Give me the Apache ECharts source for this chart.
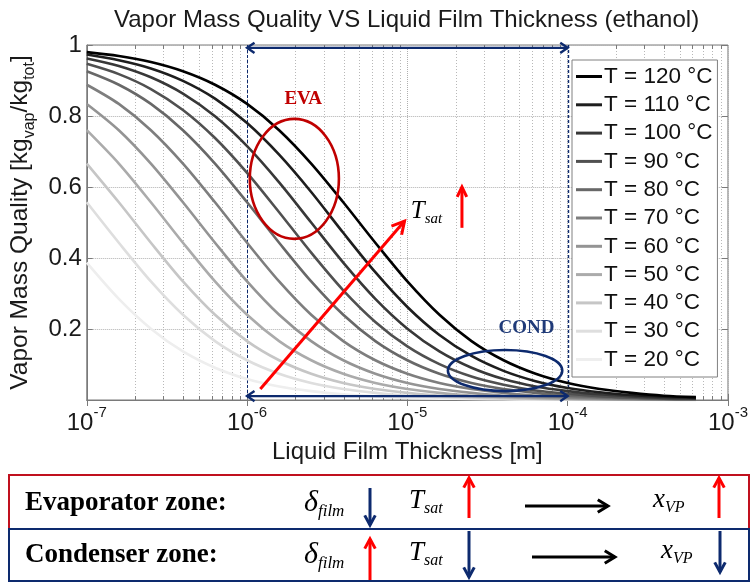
<!DOCTYPE html>
<html><head><meta charset="utf-8">
<script src="https://cdn.jsdelivr.net/npm/echarts@6/dist/echarts.min.js"></script>
<style>html,body{margin:0;padding:0;background:#fff}#c{width:751px;height:582px}</style>
</head><body><div id="c"></div>
<script>
// ---- data ----
const thickness = [1e-7, 1.585e-7, 2.512e-7, 3.981e-7, 6.31e-7, 1e-6, 1.585e-6, 2.512e-6, 3.981e-6, 6.31e-6,
  1e-5, 1.585e-5, 2.512e-5, 3.981e-5, 6.31e-5, 1e-4, 1.585e-4, 2.512e-4, 3.981e-4, 6.31e-4];
const temps = [120, 110, 100, 90, 80, 70, 60, 50, 40, 30, 20];
const q120 = [0.980, 0.969, 0.952, 0.926, 0.888, 0.834, 0.760, 0.666, 0.557, 0.443, 0.334, 0.240, 0.166, 0.112, 0.074, 0.048, 0.031, 0.020, 0.012, 0.008];
const q110 = [0.973, 0.957, 0.934, 0.899, 0.849, 0.780, 0.691, 0.586, 0.471, 0.360, 0.262, 0.183, 0.124, 0.082, 0.053, 0.034, 0.022, 0.014, 0.009, 0.006];
const q100 = [0.962, 0.941, 0.909, 0.863, 0.799, 0.715, 0.613, 0.500, 0.387, 0.285, 0.201, 0.137, 0.091, 0.059, 0.038, 0.025, 0.016, 0.010, 0.006, 0.004];
const q90  = [0.947, 0.918, 0.876, 0.817, 0.738, 0.640, 0.529, 0.415, 0.309, 0.220, 0.151, 0.101, 0.066, 0.043, 0.027, 0.018, 0.011, 0.007, 0.004, 0.003];
const q80  = [0.926, 0.888, 0.834, 0.760, 0.666, 0.557, 0.443, 0.334, 0.240, 0.166, 0.112, 0.074, 0.048, 0.031, 0.020, 0.012, 0.008, 0.005, 0.003, 0.002];
const q70  = [0.888, 0.834, 0.760, 0.666, 0.557, 0.443, 0.334, 0.240, 0.166, 0.112, 0.074, 0.048, 0.031, 0.020, 0.012, 0.008, 0.005, 0.003, 0.002, 0.001];
const q60  = [0.834, 0.760, 0.666, 0.557, 0.443, 0.334, 0.240, 0.166, 0.112, 0.074, 0.048, 0.031, 0.020, 0.012, 0.008, 0.005, 0.003, 0.002, 0.001, 0.001];
const q50  = [0.760, 0.666, 0.557, 0.443, 0.334, 0.240, 0.166, 0.112, 0.074, 0.048, 0.031, 0.020, 0.012, 0.008, 0.005, 0.003, 0.002, 0.001, 0.001, 0.001];
const q40  = [0.666, 0.557, 0.443, 0.334, 0.240, 0.166, 0.112, 0.074, 0.048, 0.031, 0.020, 0.012, 0.008, 0.005, 0.003, 0.002, 0.001, 0.001, 0.001, 0.000];
const q30  = [0.557, 0.443, 0.334, 0.240, 0.166, 0.112, 0.074, 0.048, 0.031, 0.020, 0.012, 0.008, 0.005, 0.003, 0.002, 0.001, 0.001, 0.001, 0.000, 0.000];
const q20  = [0.387, 0.285, 0.201, 0.137, 0.091, 0.059, 0.038, 0.025, 0.016, 0.010, 0.006, 0.004, 0.003, 0.002, 0.001, 0.001, 0.000, 0.000, 0.000, 0.000];
const qualities = [q120, q110, q100, q90, q80, q70, q60, q50, q40, q30, q20];
const minorX = [2e-7,3e-7,4e-7,5e-7,6e-7,7e-7,8e-7,9e-7, 2e-6,3e-6,4e-6,5e-6,6e-6,7e-6,8e-6,9e-6,
  2e-5,3e-5,4e-5,5e-5,6e-5,7e-5,8e-5,9e-5, 2e-4,3e-4,4e-4,5e-4,6e-4,7e-4,8e-4,9e-4];
const zoneBounds = [1e-6, 1e-4];
// annotation anchors in data space
const evaBox = [[1.04e-6, 0.792], [3.74e-6, 0.454]];
const condBox = [[1.79e-5, 0.141], [9.25e-5, 0.025]];
const tsatArrow = [[1.21e-6, 0.031], [9.6e-6, 0.504]];
const tsatUp = [[2.19e-5, 0.485], [2.19e-5, 0.60]];
const evaLabel = [2.24e-6, 0.848];
const condLabel = [5.53e-5, 0.203];
const tsatLabel = [1.05e-5, 0.53];

// ---- styles ----
const greys = ['#000000','#1e1e1e','#383838','#505050','#686868','#7e7e7e','#949494','#ababab','#c6c6c6','#dedede','#eeeeee'];
const SANS = '"Liberation Sans", Arial, Helvetica, sans-serif';
const SERIF = '"Liberation Serif", "Times New Roman", serif';
const NAVY = '#0d2a6e';
const RED = '#ff0000';
const DARKRED = '#c00000';
const TXT = '#1a1a1a';
const AXIS = '#7a7a7a';

const chart = echarts.init(document.getElementById('c'), null, {renderer: 'canvas'});

const lineSeries = temps.map((t, i) => ({
  name: 'T = ' + t + ' °C',
  type: 'line',
  data: thickness.map((x, j) => [x, qualities[i][j]]),
  showSymbol: false,
  smooth: 0.3,
  color: greys[i],
  lineStyle: {color: greys[i], width: 2.6},
  z: 3 + (temps.length - i) * 0.01,
  silent: true
})).reverse();

const option = {
  animation: false,
  backgroundColor: '#ffffff',
  title: {
    text: 'Vapor Mass Quality VS Liquid Film Thickness (ethanol)',
    left: 109, top: 3,
    textStyle: {fontFamily: SANS, fontSize: 24, fontWeight: 'normal', color: TXT}
  },
  grid: {left: 84, right: 21, top: 45, bottom: 182, show: true, borderColor: AXIS, borderWidth: 1},
  legend: {
    orient: 'vertical', left: 572, top: 60,
    data: temps.map(t => 'T = ' + t + ' °C'),
    icon: 'rect', itemWidth: 26, itemHeight: 3, itemGap: 5.3,
    backgroundColor: '#ffffff', borderColor: '#808080', borderWidth: 1,
    padding: [5, 5, 6, 4],
    textStyle: {fontFamily: SANS, fontSize: 22.5, color: '#111', padding: [0,0,0,-3]},
    selectedMode: false
  },
  xAxis: [{
    type: 'log', logBase: 10, min: 1e-7, max: 1e-3,
    name: 'Liquid Film Thickness [m]', nameLocation: 'middle', nameGap: 33,
    nameTextStyle: {fontFamily: SANS, fontSize: 24, color: TXT},
    axisLine: {show: true, lineStyle: {color: AXIS}},
    axisTick: {show: true, inside: true, length: 6, lineStyle: {color: AXIS}},
    splitLine: {show: true, lineStyle: {type: 'dotted', color: '#b0b0b0'}},
    axisLabel: {
      margin: 5,
      formatter: v => '{b|10}{e|' + Math.round(Math.log10(v)) + '}',
      rich: {
        b: {fontFamily: SANS, fontSize: 24, color: TXT, lineHeight: 30, verticalAlign: 'bottom'},
        e: {fontFamily: SANS, fontSize: 15, color: TXT, verticalAlign: 'top', lineHeight: 15}
      }
    }
  }, {
    type: 'log', logBase: 10, min: 1e-7, max: 1e-3, position: 'top',
    axisLine: {show: false}, axisLabel: {show: false}, splitLine: {show: false},
    axisTick: {show: true, inside: true, length: 6, lineStyle: {color: AXIS}}
  }],
  yAxis: [{
    type: 'value', min: 0, max: 1, interval: 0.2,
    name: '{n|Vapor Mass Quality [kg}{s|vap}{n|/kg}{s|tot}{n|]}',
    nameLocation: 'middle', nameGap: 47, nameRotate: 90,
    nameTextStyle: {
      rich: {
        n: {fontFamily: SANS, fontSize: 24.5, color: TXT, lineHeight: 34},
        s: {fontFamily: SANS, fontSize: 16, color: TXT, verticalAlign: 'bottom', lineHeight: 16}
      }
    },
    axisLine: {show: true, lineStyle: {color: AXIS}},
    axisTick: {show: true, inside: true, length: 6, lineStyle: {color: AXIS}},
    splitLine: {show: true, lineStyle: {type: 'dotted', color: '#b0b0b0'}},
    axisLabel: {
      margin: 5, fontFamily: SANS, fontSize: 24, color: TXT,
      formatter: v => (v === 0 ? '' : String(Math.round(v * 10) / 10))
    }
  }, {
    type: 'value', min: 0, max: 1, interval: 0.2, position: 'right',
    axisLine: {show: false}, axisLabel: {show: false}, splitLine: {show: false},
    axisTick: {show: true, inside: true, length: 6, lineStyle: {color: AXIS}}
  }],
  series: lineSeries
};
chart.setOption(option);

// ---- annotations & minor grid (positions through the axis scales) ----
const P = p => chart.convertToPixel({xAxisIndex: 0, yAxisIndex: 0}, p);
function head(p, ang, color, w, len, spread) {
  return {type: 'polyline', silent: true, z: 20,
    shape: {points: [[p[0] - len * Math.cos(ang - spread), p[1] - len * Math.sin(ang - spread)], [p[0], p[1]],
                     [p[0] - len * Math.cos(ang + spread), p[1] - len * Math.sin(ang + spread)]]},
    style: {stroke: color, lineWidth: w, fill: null, lineJoin: 'miter'}};
}
function arrow(p1, p2, color, w, len, both, spread) {
  spread = spread || 0.5;
  const ang = Math.atan2(p2[1] - p1[1], p2[0] - p1[0]);
  const els = [{type: 'line', silent: true, z: 20, shape: {x1: p1[0], y1: p1[1], x2: p2[0], y2: p2[1]},
    style: {stroke: color, lineWidth: w}}];
  els.push(head(p2, ang, color, w, len, spread));
  if (both) els.push(head(p1, ang + Math.PI, color, w, len, spread));
  return els;
}
function ellipseFromBox(b, color) {
  const a = P(b[0]), c = P(b[1]);
  return {type: 'ellipse', silent: true, z: 20,
    shape: {cx: (a[0] + c[0]) / 2, cy: (a[1] + c[1]) / 2, rx: Math.abs(c[0] - a[0]) / 2, ry: Math.abs(c[1] - a[1]) / 2},
    style: {stroke: color, lineWidth: 2.6, fill: null}};
}
function txt(x, y, text, rich, align, vAlign) {
  return {type: 'text', silent: true, z: 21, x: x, y: y,
    style: {text: text, rich: rich, align: align || 'left', verticalAlign: vAlign || 'middle'}};
}
const g = [];
// minor vertical grid lines + minor ticks
minorX.forEach(v => {
  const t = P([v, 1]), b = P([v, 0]);
  const x = Math.round(t[0]) + 0.5;
  g.push({type: 'line', silent: true, z: 1, shape: {x1: x, y1: t[1], x2: x, y2: b[1]},
    style: {stroke: '#b8b8b8', lineWidth: 1, lineDash: [1, 2]}});
  g.push({type: 'line', silent: true, z: 2, shape: {x1: x, y1: b[1], x2: x, y2: b[1] - 4}, style: {stroke: AXIS, lineWidth: 1}});
  g.push({type: 'line', silent: true, z: 2, shape: {x1: x, y1: t[1], x2: x, y2: t[1] + 4}, style: {stroke: AXIS, lineWidth: 1}});
});
// zone boundaries (dashed navy)
zoneBounds.forEach((v, k) => {
  const t = P([v, 1]), b = P([v, 0]);
  const x = Math.round(t[0]) + 0.5;
  g.push({type: 'line', silent: true, z: 2, shape: {x1: x, y1: t[1], x2: x, y2: b[1]},
    style: {stroke: NAVY, lineWidth: k === 0 ? 1 : 1.4, lineDash: [3, 2]}});
});
// blue zone double arrows
const topL = P([zoneBounds[0], 0.992]), topR = P([zoneBounds[1], 0.992]);
const botL = P([zoneBounds[0], 0.011]), botR = P([zoneBounds[1], 0.011]);
g.push(...arrow(topL, topR, NAVY, 2.4, 9, true, 0.6));
g.push(...arrow(botL, botR, NAVY, 2.4, 9, true, 0.6));
g.push(ellipseFromBox(evaBox, DARKRED));
g.push(ellipseFromBox(condBox, NAVY));
g.push(...arrow(P(tsatArrow[0]), P(tsatArrow[1]), RED, 3, 14, false, 0.5));
g.push(...arrow(P(tsatUp[0]), P(tsatUp[1]), RED, 3, 11, false, 0.45));
const evP = P(evaLabel), coP = P(condLabel), tsP = P(tsatLabel);
g.push(txt(evP[0], evP[1], 'EVA', null, 'center'));
g[g.length - 1].style.font = 'bold 19px ' + SERIF; g[g.length - 1].style.fill = DARKRED;
g.push(txt(coP[0], coP[1], 'COND', null, 'center'));
g[g.length - 1].style.font = 'bold 19px ' + SERIF; g[g.length - 1].style.fill = '#1f3a78';
const richTs = {
  T: {fontFamily: SERIF, fontStyle: 'italic', fontSize: 25, color: '#111', lineHeight: 30},
  s: {fontFamily: SERIF, fontStyle: 'italic', fontSize: 15, color: '#111', verticalAlign: 'bottom', lineHeight: 15}
};
g.push(txt(tsP[0], tsP[1], '{T|T}{s|sat}', richTs, 'left'));

// bottom table
g.push({type: 'rect', silent: true, shape: {x: 9, y: 475, width: 740, height: 54}, style: {stroke: '#c0101e', lineWidth: 2, fill: null}});
g.push({type: 'rect', silent: true, shape: {x: 9, y: 529, width: 740, height: 52}, style: {stroke: NAVY, lineWidth: 2, fill: null}});
const zoneFont = 'bold 27px ' + SERIF;
g.push({type: 'text', silent: true, x: 25, y: 503, style: {text: 'Evaporator zone:', font: zoneFont, fill: '#000', verticalAlign: 'middle'}});
g.push({type: 'text', silent: true, x: 25, y: 555, style: {text: 'Condenser zone:', font: zoneFont, fill: '#000', verticalAlign: 'middle'}});
const richD = {
  d: {fontFamily: SERIF, fontStyle: 'italic', fontSize: 30, color: '#000', lineHeight: 34},
  s: {fontFamily: SERIF, fontStyle: 'italic', fontSize: 17, color: '#000', verticalAlign: 'bottom', lineHeight: 17}
};
const richX = {
  d: {fontFamily: SERIF, fontStyle: 'italic', fontSize: 27, color: '#000', lineHeight: 32},
  s: {fontFamily: SERIF, fontStyle: 'italic', fontSize: 16, color: '#000', verticalAlign: 'bottom', lineHeight: 16}
};
g.push(txt(304, 503, '{d|δ}{s|film}', richD));
g.push(txt(304, 555, '{d|δ}{s|film}', richD));
g.push(txt(409, 501, '{d|T}{s|sat}', richX));
g.push(txt(409, 553, '{d|T}{s|sat}', richX));
g.push(txt(653, 500, '{d|x}{s|VP}', richX));
g.push(txt(661, 551, '{d|x}{s|VP}', richX));
g.push(...arrow([525, 506], [608, 506], '#000', 3, 12, false, 0.55));
g.push(...arrow([532, 557], [615, 557], '#000', 3, 12, false, 0.55));
g.push(...arrow([370, 488], [370, 525], NAVY, 3, 11, false, 0.5));
g.push(...arrow([469, 518], [469, 478], RED, 3, 11, false, 0.5));
g.push(...arrow([719, 518], [719, 478], RED, 3, 11, false, 0.5));
g.push(...arrow([370, 580], [370, 539], RED, 3, 11, false, 0.5));
g.push(...arrow([469, 531], [469, 577], NAVY, 3, 11, false, 0.5));
g.push(...arrow([720, 531], [720, 572], NAVY, 3, 11, false, 0.5));

chart.setOption({graphic: g});
</script></body></html>
